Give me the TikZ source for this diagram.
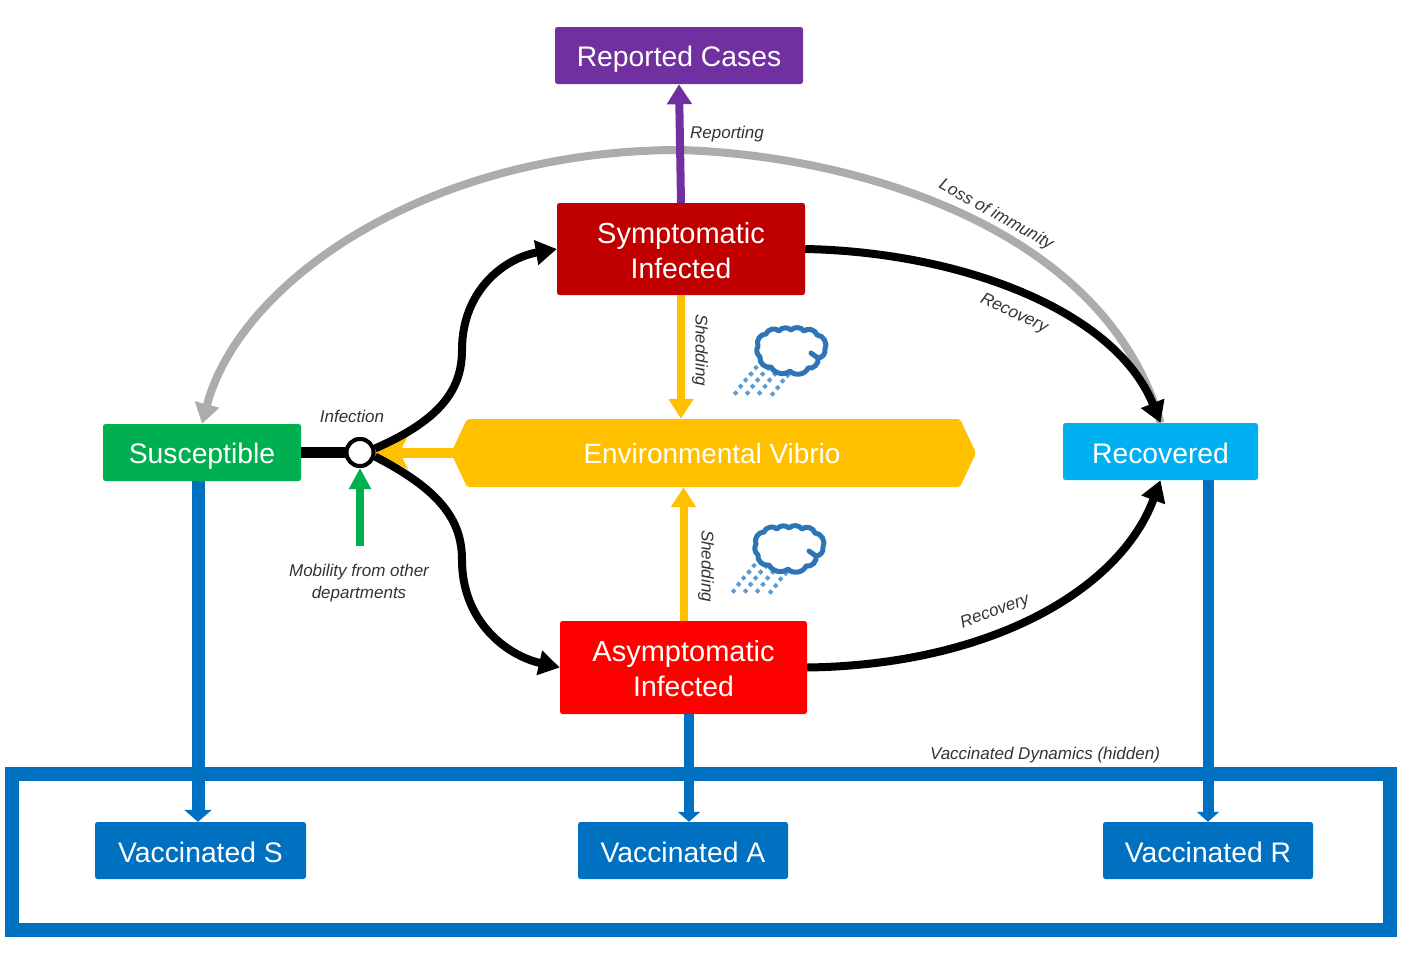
\documentclass[tikz,border=0pt]{standalone}
\usepackage{fontspec}
\setmainfont{Liberation Sans}
\usetikzlibrary{arrows.meta,calc}
\definecolor{cpurple}{HTML}{7030A0}
\definecolor{cdark}{HTML}{C00000}
\definecolor{cred}{HTML}{FF0000}
\definecolor{cgreen}{HTML}{00B050}
\definecolor{ccyan}{HTML}{00B0F0}
\definecolor{cblue}{HTML}{0070C0}
\definecolor{cyellow}{HTML}{FFC000}
\definecolor{cgray}{HTML}{AFABAB}
\definecolor{ccloud}{HTML}{2E75B6}
\definecolor{crain}{HTML}{5B9BD5}
\newcommand{\lowr}[2]{\raisebox{-#1}[\height][\depth]{#2}}
\tikzset{
 x=1pt,y=-1pt,
 boxn/.style={rectangle,rounded corners=2.5pt,text=white,font=\fontsize{28.3}{35}\selectfont,align=center,inner sep=0pt},
 lab/.style={font=\fontsize{17}{22}\selectfont\itshape,text=black!80,align=center,inner sep=0pt},
 flowk/.style={line width=8pt,black,-{Triangle[length=21pt,width=24pt]}},
 grayf/.style={line width=8pt,cgray,-{Triangle[length=20pt,width=24pt]}},
 shed/.style={line width=8pt,cyellow,-{Triangle[length=20pt,width=24pt]}},
 vacc/.style={line width=13pt,cblue,-{Triangle[length=12pt,width=27pt]}},
 vaccb/.style={line width=11pt,cblue,-{Triangle[length=10pt,width=22pt]}},
 pics/raincloud/.style={code={
  \foreach \a/\b in {168/203,153/222,137/240,122/259,107/279,188/222,173/240,158/259,143/279,225/222,209/240,195/259,179/279,263/226,248/243,233/263,218/282,205/205}
   \fill[crain] ({(\a)/3},{(\b)/3}) +(-2.8,0) -- +(0,-2.8) -- +(2.8,0) -- +(0,2.8) -- cycle;
  \draw[ccloud,line width=5pt,line join=round,line cap=round,fill=white]
   (111,53) -- (118,58) to[bend left=60] (108,68) to[bend left=60] (90,71) to[bend left=50] (71,67)
   to[bend left=60] (60,57) to[bend left=40] (58,46) to[bend left=60] (66,34) to[bend left=60] (79,31)
   to[bend left=50] (91,30) to[bend left=50] (104,31) to[bend left=60] (117,35) to[bend left=60] (125,49) to[bend left=50] (118,58);
 }}
}
\begin{document}
\begin{tikzpicture}
\useasboundingbox (0,0) rectangle (1427,956);
% frame
\draw[cblue,line width=14pt] (12,774) rectangle (1390,930);
% nodes
\fill[cyellow,rounded corners=2pt] (451,453) -- (467,419) -- (960,419) -- (976,453) -- (960,487) -- (467,487) -- cycle;
\node[boxn,fill=cpurple,minimum width=248pt,minimum height=57pt] (rep) at (679,55.5) {\lowr{4pt}{Reported Cases}};
\node[boxn,fill=cdark,minimum width=248pt,minimum height=92pt] (sym) at (681,249) {\lowr{2pt}{\fontsize{29}{35}\selectfont Symptomatic}\\\lowr{2pt}{Infected}};
\node[boxn,fill=cred,minimum width=247pt,minimum height=93pt] (asy) at (683.5,667.5) {\lowr{1pt}{\fontsize{29}{35}\selectfont Asymptomatic}\\\lowr{1pt}{Infected}};
\node[boxn,fill=cgreen,minimum width=198pt,minimum height=57pt] (sus) at (202,452.5) {\lowr{3.5pt}{Susceptible}};
\node[boxn,fill=ccyan,minimum width=195pt,minimum height=57pt] (rec) at (1160.5,451.5) {\lowr{2pt}{Recovered}};
\node[text=white,font=\fontsize{27.9}{35}\selectfont,inner sep=0pt,minimum width=528pt,minimum height=68pt] (env) at (712,453) {\lowr{1pt}{Environmental Vibrio}};
\node[boxn,fill=cblue,minimum width=211pt,minimum height=57pt] (vs) at (200.5,850.5) {\lowr{2pt}{Vaccinated S}};
\node[boxn,fill=cblue,minimum width=210pt,minimum height=57pt] (va) at (683,850.5) {\lowr{2pt}{Vaccinated A}};
\node[boxn,fill=cblue,minimum width=210pt,minimum height=57pt] (vr) at (1208,850.5) {\lowr{2pt}{Vaccinated R}};
\node[circle,draw=black,line width=4pt,fill=white,minimum size=27pt,inner sep=0pt] (inf) at (360,452.5) {};
% vaccination
\draw[vacc] ([xshift=-4pt]sus.south) -- ([xshift=-2.5pt]vs.north);
\draw[vaccb,line width=10pt] ([xshift=5.5pt]asy.south) -- ([xshift=6pt]va.north);
\draw[vaccb] (rec.south -| vr.north) -- (vr.north);
% gray
\coordinate (peak) at (680,150);
\draw[grayf] (rec.north) .. controls (1105,225) and (850,155) .. (peak) .. controls (430,150) and (240,280) .. (sus.north);
% purple, yellow, green
\draw[line width=8pt,cpurple,-{Triangle[length=20pt,width=24pt]}] (sym.north) -- (rep.south);
\draw[shed] (sym.south) -- (sym.south |- env.north);
\draw[shed] (asy.north) -- (asy.north |- env.south);
\coordinate (mob) at (360,546);
\draw[line width=7.5pt,cgreen,-{Triangle[length=21pt,width=21pt]}] (mob) -- (inf.south);
\coordinate (hexw) at (460,452.5);
\draw[line width=10pt,cyellow,-{Stealth[length=32pt,width=33pt,inset=8pt]}] (hexw) -- (inf.east);
% black
\draw[line width=11pt,black] (sus.east |- inf.west) -- (inf.west);
\draw[flowk] (inf.15) .. controls (440,420) and (462,390) .. (462,350) .. controls (462,290) and (505,258) .. (sym.west);
\draw[flowk] (inf.-15) .. controls (440,490) and (462,520) .. (462,560) .. controls (462,620) and (505,655) .. (asy.west);
\draw[flowk] (sym.east) .. controls (960,252) and (1115,310) .. (rec.north);
\draw[flowk] (asy.east) .. controls (990,665) and (1120,590) .. (rec.south);
\node[circle,draw=black,line width=4pt,fill=white,minimum size=27pt,inner sep=0pt] (infc) at (inf) {};
% clouds
\pic at (700,300) {raincloud};
\pic at (698,498) {raincloud};
% labels
\node[lab] (l1) at (727,134) {Reporting};
\node[lab,rotate=-29] (l2) at (996,215) {Loss of immunity};
\node[lab,rotate=-25] (l3) at (1014,314) {Recovery};
\node[lab,rotate=20] (l4) at (995,612) {Recovery};
\node[lab,rotate=-90] (l5) at (700,350) {Shedding};
\node[lab,rotate=-90] (l6) at (706,566) {Shedding};
\node[lab] (l7) at (352,416) {Infection};
\node[lab] (l8) at (359,583) {Mobility from other\\departments};
\node[lab] (l9) at (1045,755) {Vaccinated Dynamics (hidden)};
\end{tikzpicture}
\end{document}
